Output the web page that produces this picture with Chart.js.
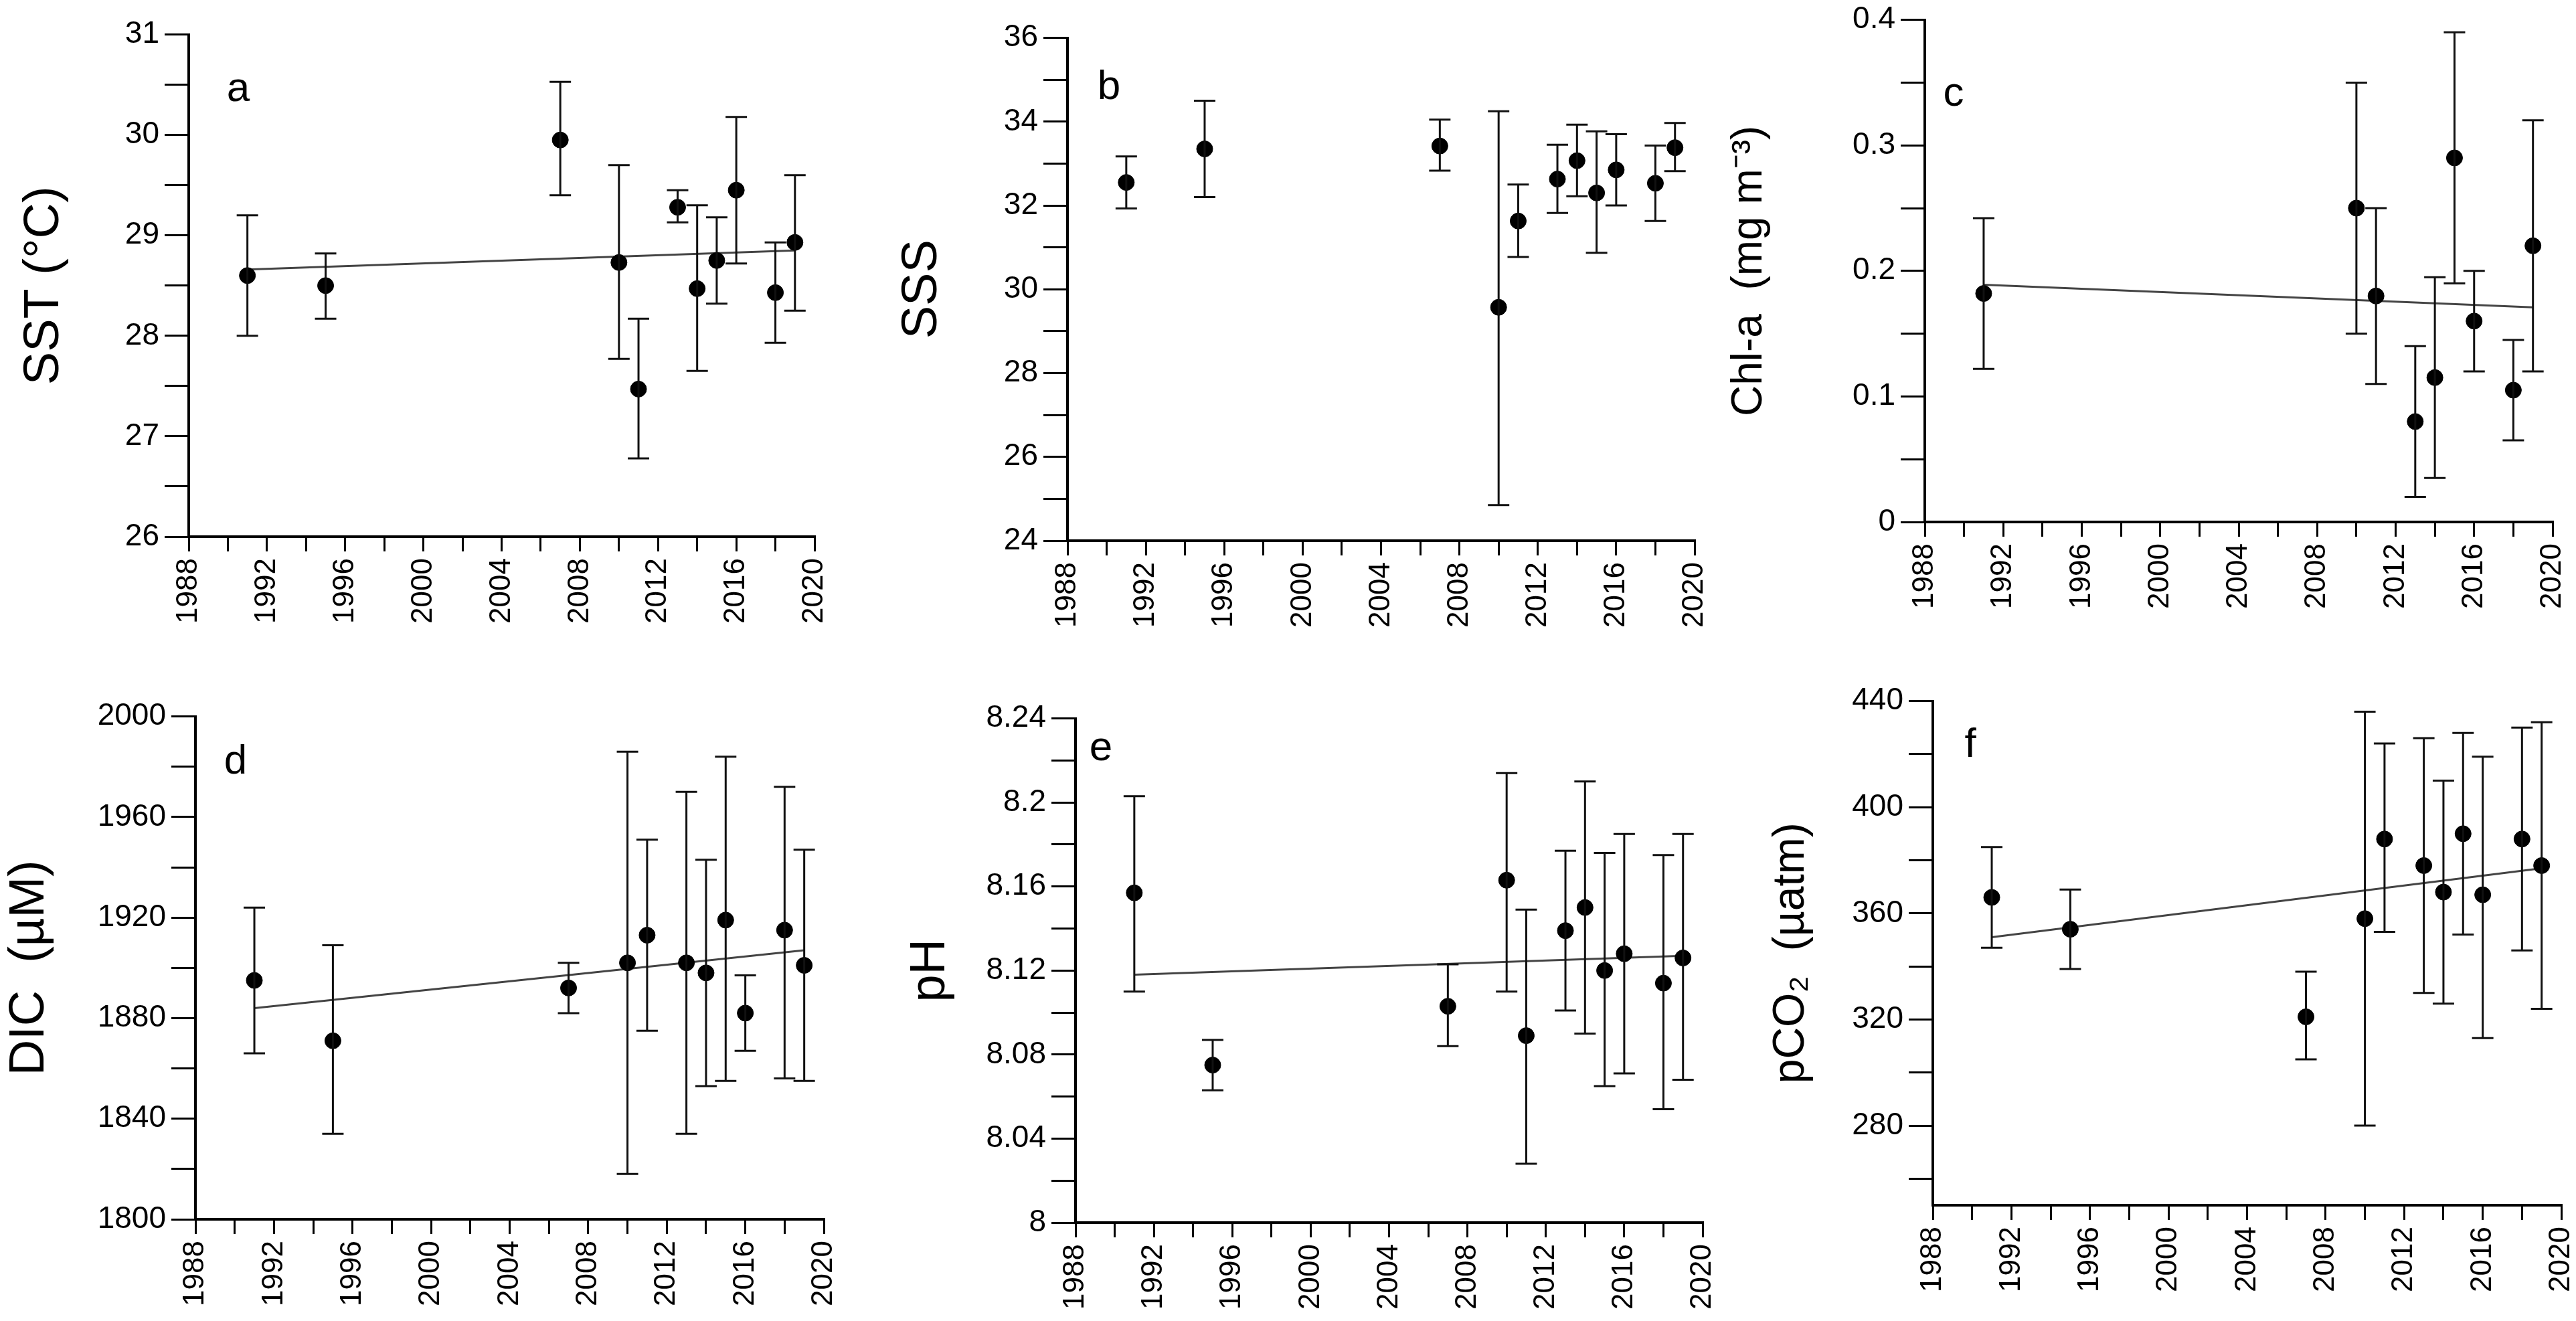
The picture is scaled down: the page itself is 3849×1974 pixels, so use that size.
<!DOCTYPE html>
<html><head><meta charset="utf-8">
<script src="https://cdn.jsdelivr.net/npm/chart.js@4.4.0/dist/chart.umd.min.js"></script>
<style>html,body{margin:0;padding:0;background:#fff;width:3849px;height:1974px;overflow:hidden}canvas{position:absolute}</style>
</head><body>
<script>
const years = [1991,1995,2007,2010,2011,2013,2014,2015,2016,2018,2019];
const sstVal=[28.6,28.5,29.95,28.73,27.47,29.28,28.47,28.75,29.45,28.43,28.93];
const sstLo=[28.0,28.17,29.4,27.77,26.78,29.13,27.65,28.32,28.72,27.93,28.25];
const sstHi=[29.2,28.82,30.53,29.7,28.17,29.45,29.3,29.18,30.18,28.93,29.6];
const sstTrend=[28.66,28.85];
const sssVal=[32.55,33.35,33.42,29.57,31.63,32.63,33.07,32.3,32.85,32.53,33.38];
const sssLo=[31.93,32.2,32.83,24.85,30.77,31.82,32.22,30.87,32.0,31.63,32.82];
const sssHi=[33.17,34.5,34.05,34.25,32.5,33.45,33.93,33.77,33.7,33.43,33.97];
const chlYears=[1991,2010,2011,2013,2014,2015,2016,2018,2019];
const chlVal=[0.182,0.25,0.18,0.08,0.115,0.29,0.16,0.105,0.22];
const chlLo=[0.122,0.15,0.11,0.02,0.035,0.19,0.12,0.065,0.12];
const chlHi=[0.242,0.35,0.25,0.14,0.195,0.39,0.20,0.145,0.32];
const chlTrend=[0.189,0.171];
const dicVal=[1895,1871,1892,1902,1913,1902,1898,1919,1882,1915,1901];
const dicLo=[1866,1834,1882,1818,1875,1834,1853,1855,1867,1856,1855];
const dicHi=[1924,1909,1902,1986,1951,1970,1943,1984,1897,1972,1947];
const dicTrend=[1884,1907];
const phVal=[8.157,8.075,8.103,8.163,8.089,8.139,8.150,8.120,8.128,8.114,8.126];
const phLo=[8.110,8.063,8.084,8.110,8.028,8.101,8.090,8.065,8.071,8.054,8.068];
const phHi=[8.203,8.087,8.123,8.214,8.149,8.177,8.210,8.176,8.185,8.175,8.185];
const phTrend=[8.118,8.127];
const pco2Val=[366,354,321,358,388,378,368,390,367,388,378];
const pco2Lo=[347,339,305,280,353,330,326,352,313,346,324];
const pco2Hi=[385,369,338,436,424,426,410,428,419,430,432];
const pco2Trend=[351,377];
const trendYears=[1991,2019];
const xTickLabels=[1988,1992,1996,2000,2004,2008,2012,2016,2020];

const FONT='"Liberation Sans", Arial, sans-serif';
function range(a,b,s){const r=[];for(let v=a;v<=b+s*1e-6;v+=s)r.push(+v.toFixed(4));return r;}

const errPlugin={id:'err',afterDatasetsDraw(chart){
  const o=chart.options.plugins.err; if(!o)return;
  const ctx=chart.ctx,xs=chart.scales.x,ys=chart.scales.y;
  ctx.save();ctx.strokeStyle='#111';ctx.lineWidth=3;
  o.x.forEach((yr,i)=>{const px=xs.getPixelForValue(yr),a=ys.getPixelForValue(o.lo[i]),b=ys.getPixelForValue(o.hi[i]);
    ctx.beginPath();ctx.moveTo(px,a);ctx.lineTo(px,b);ctx.moveTo(px-16,a);ctx.lineTo(px+16,a);ctx.moveTo(px-16,b);ctx.lineTo(px+16,b);ctx.stroke();});
  ctx.fillStyle='#000';ctx.font='44px '+FONT;ctx.textAlign='right';ctx.textBaseline='middle';
  xTickLabels.forEach(v=>{const px=xs.getPixelForValue(v);ctx.save();ctx.translate(px,xs.top+32);ctx.rotate(-Math.PI/2);ctx.fillText(String(v),0,0);ctx.restore();});
  ctx.font='62px '+FONT;ctx.textAlign='center';
  ctx.fillText(o.letter,chart.chartArea.left+o.lx,chart.chartArea.top+o.ly);
  ctx.restore();}};
Chart.register(errPlugin);

function panel(p){
  const padL=p.w, padT=24, padR=30, padB=150;
  const c=document.createElement('canvas');
  const W=p.right-p.left+padL+padR, H=p.bottom-p.top+padT+padB;
  c.style.left=(p.left-padL)+'px';c.style.top=(p.top-padT)+'px';c.style.width=W+'px';c.style.height=H+'px';
  c.width=W;c.height=H;document.body.appendChild(c);
  const ds=[{type:'scatter',data:p.x.map((x,i)=>({x,y:p.v[i]})),pointRadius:12,backgroundColor:'#000',borderColor:'#000'}];
  if(p.trend)ds.push({type:'line',data:trendYears.map((x,i)=>({x,y:p.trend[i]})),borderColor:'#444',borderWidth:3,pointRadius:0});
  new Chart(c,{type:'scatter',data:{datasets:ds},options:{responsive:false,animation:false,devicePixelRatio:1,
    layout:{padding:{top:padT,right:padR,left:0,bottom:0}},
    plugins:{legend:{display:false},tooltip:{enabled:false},err:{x:p.x,lo:p.lo,hi:p.hi,letter:p.letter,lx:p.lx,ly:p.ly}},
    scales:{
      x:{type:'linear',min:1988,max:2020,afterFit(s){s.height=padB;},afterBuildTicks(s){s.ticks=range(1988,2020,2).map(v=>({value:v}));},
        border:{display:true,color:'#000',width:4},grid:{drawOnChartArea:false,color:'#000',lineWidth:3,tickLength:22},
        ticks:{display:true,color:'rgba(0,0,0,0)',callback:()=>'' }},
      y:{type:'linear',min:p.min,max:p.max,afterFit(s){s.width=padL;},afterBuildTicks(s){s.ticks=range(p.tmin,p.max,p.minor).map(v=>({value:v}));},
        border:{display:true,color:'#000',width:4},grid:{drawOnChartArea:false,color:'#000',lineWidth:3,tickLength:36},
        ticks:{color:'#000',font:{size:46,family:FONT},padding:8,callback(v){const r=v/p.major;return Math.abs(r-Math.round(r))<1e-6?String(+v.toFixed(2)):'';}},
        title:{display:true,text:p.title,color:'#000',font:{size:p.ts||74,family:FONT},padding:0}}
    }}});
}
panel({left:282,right:1217,top:40,bottom:802,w:260,x:years,v:sstVal,lo:sstLo,hi:sstHi,trend:sstTrend,min:26,max:31,tmin:26,minor:0.5,major:1,title:'SST (°C)',letter:'a',lx:74,ly:82});
panel({left:1595,right:2532,top:45,bottom:808,w:261,x:years,v:sssVal,lo:sssLo,hi:sssHi,trend:null,min:24,max:36,tmin:24,minor:1,major:2,title:'SSS',letter:'b',lx:62,ly:74});
panel({left:2876,right:3814,top:18,bottom:780,w:300,x:chlYears,v:chlVal,lo:chlLo,hi:chlHi,trend:chlTrend,min:0,max:0.4,tmin:0,minor:0.05,major:0.1,title:'Chl-a  (mg m⁻³)',ts:64,letter:'c',lx:43,ly:111});
panel({left:292,right:1231,top:1059,bottom:1822,w:292,x:years,v:dicVal,lo:dicLo,hi:dicHi,trend:dicTrend,min:1800,max:2000,tmin:1800,minor:20,major:40,title:'DIC  (µM)',letter:'d',lx:60,ly:68});
panel({left:1607,right:2544,top:1062,bottom:1827,w:261,x:years,v:phVal,lo:phLo,hi:phHi,trend:phTrend,min:8,max:8.24,tmin:8,minor:0.02,major:0.04,title:'pH',letter:'e',lx:38,ly:45});
panel({left:2888,right:3827,top:1036,bottom:1801,w:251,x:years,v:pco2Val,lo:pco2Lo,hi:pco2Hi,trend:pco2Trend,min:250,max:440,tmin:260,minor:20,major:40,title:'pCO₂  (µatm)',ts:66,letter:'f',lx:56,ly:66});
</script>
</body></html>
